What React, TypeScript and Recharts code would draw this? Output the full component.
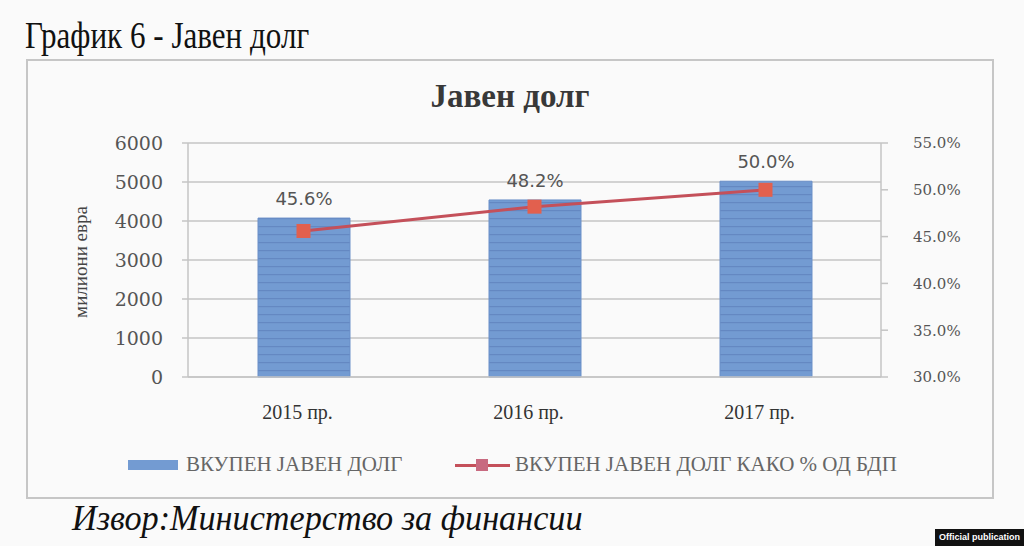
import React from "react";
import {
  ComposedChart,
  Bar,
  Line,
  XAxis,
  YAxis,
  CartesianGrid,
  LabelList,
} from "recharts";

/* ── data ─────────────────────────────────────────────── */
const years = ["2015 пр.", "2016 пр.", "2017 пр."];
const debt = [4075, 4540, 5020]; // милиони евра
const debtPct = [45.6, 48.2, 50.0]; // % од БДП
const leftTicks = [0, 1000, 2000, 3000, 4000, 5000, 6000];
const rightTicks = [30, 35, 40, 45, 50, 55];

const seriesBar = "ВКУПЕН ЈАВЕН ДОЛГ";
const seriesLine = "ВКУПЕН ЈАВЕН ДОЛГ КАКО % ОД БДП";

const rows = years.map((y, i) => ({ year: y, debt: debt[i], pct: debtPct[i] }));

const BAR = "#739bd2";
const LINE = "#c4505a";
const MARK = "#e2604e";
const serif = "'DejaVu Serif', serif";
const lib = "'Liberation Serif', serif";

const SquareDot = (props: any) => {
  const { cx, cy } = props;
  if (cx == null || cy == null) return null;
  return <rect x={cx - 7} y={cy - 7} width={14} height={14} fill={MARK} />;
};

export default function App() {
  return (
    <div
      style={{
        position: "absolute",
        left: 0,
        top: 0,
        width: 1024,
        height: 546,
        background: "#fafafa",
        overflow: "hidden",
        fontFamily: lib,
      }}
    >
      <div
        style={{
          position: "absolute",
          left: 25,
          top: 14,
          fontSize: 37,
          color: "#111",
          whiteSpace: "nowrap",
          transform: "scaleX(0.84)",
          transformOrigin: "left top",
        }}
      >
        График 6 - Јавен долг
      </div>

      {/* chart frame */}
      <div
        style={{
          position: "absolute",
          left: 26,
          top: 59,
          width: 964,
          height: 436,
          border: "2px solid #c6c6c6",
        }}
      />

      <div
        style={{
          position: "absolute",
          left: 27,
          top: 78,
          width: 966,
          textAlign: "center",
          fontSize: 33,
          fontWeight: "bold",
          color: "#383838",
        }}
      >
        Јавен долг
      </div>

      <div
        style={{
          position: "absolute",
          left: 81,
          top: 262,
          transform: "translate(-50%, -50%) rotate(-90deg)",
          fontSize: 19,
          color: "#444",
          whiteSpace: "nowrap",
        }}
      >
        милиони евра
      </div>

      <div style={{ position: "absolute", left: 27, top: 60 }}>
        <ComposedChart
          width={966}
          height={437}
          data={rows}
          margin={{ top: 83, right: 32, bottom: 80, left: 91 }}
        >
          <defs>
            <pattern id="barStripes" width="8" height="8" patternUnits="userSpaceOnUse">
              <rect width="8" height="8" fill={BAR} />
              <rect y="6" width="8" height="1.2" fill="#6488c2" />
            </pattern>
          </defs>
          <CartesianGrid yAxisId="left" vertical={false} stroke="#c4c4c4" strokeWidth={1.5} />
          <XAxis
            dataKey="year"
            height={40}
            tickLine={false}
            axisLine={{ stroke: "#c4c4c4", strokeWidth: 1.5 }}
            tickMargin={22}
            tick={{ fill: "#333", fontSize: 20, fontFamily: lib, dx: -6 }}
          />
          <YAxis
            yAxisId="left"
            width={70}
            domain={[0, 6000]}
            ticks={leftTicks}
            tickSize={6}
            tickMargin={19}
            axisLine={{ stroke: "#c4c4c4", strokeWidth: 1.5 }}
            tickLine={{ stroke: "#c4c4c4", strokeWidth: 1.5 }}
            tick={{ fill: "#555", fontSize: 19, fontFamily: serif }}
          />
          <YAxis
            yAxisId="right"
            orientation="right"
            width={80}
            domain={[30, 55]}
            ticks={rightTicks}
            tickSize={7}
            tickMargin={15}
            tickFormatter={(v: number) => `${v.toFixed(1)}%`}
            axisLine={{ stroke: "#c4c4c4", strokeWidth: 1.5 }}
            tickLine={{ stroke: "#c4c4c4", strokeWidth: 1.5 }}
            tick={{ fill: "#555", fontSize: 15, fontFamily: serif, textAnchor: "start", dx: 10 }}
          />
          <Bar
            yAxisId="left"
            dataKey="debt"
            barSize={92}
            fill="url(#barStripes)"
            stroke="#6a8fc8"
            isAnimationActive={false}
          >
            <LabelList
              dataKey="pct"
              position="top"
              offset={13}
              formatter={(v: any) => `${Number(v).toFixed(1)}%`}
              style={{ fill: "#555", fontSize: 18, fontFamily: "'DejaVu Sans', sans-serif" }}
            />
          </Bar>
          <Line
            yAxisId="right"
            dataKey="pct"
            stroke={LINE}
            strokeWidth={3}
            dot={<SquareDot />}
            activeDot={false}
            isAnimationActive={false}
          />
        </ComposedChart>
      </div>

      {/* legend */}
      <div
        style={{
          position: "absolute",
          top: 452,
          left: 128,
          display: "flex",
          alignItems: "center",
          fontSize: 21,
          color: "#666",
          whiteSpace: "nowrap",
        }}
      >
        <span style={{ display: "inline-block", width: 50, height: 10, background: BAR, marginRight: 8 }} />
        <span>{seriesBar}</span>
      </div>
      <div
        style={{
          position: "absolute",
          top: 452,
          left: 455,
          display: "flex",
          alignItems: "center",
          fontSize: 21,
          color: "#666",
          whiteSpace: "nowrap",
        }}
      >
        <span style={{ position: "relative", display: "inline-block", width: 55, height: 14, marginRight: 5 }}>
          <span style={{ position: "absolute", left: 0, top: 6, width: 55, height: 3, background: LINE }} />
          <span style={{ position: "absolute", left: 21, top: 1, width: 12, height: 12, background: "#c86a80" }} />
        </span>
        <span>{seriesLine}</span>
      </div>

      <div
        style={{
          position: "absolute",
          left: 72,
          top: 497,
          fontSize: 36,
          fontStyle: "italic",
          color: "#111",
          whiteSpace: "nowrap",
          transform: "scaleX(0.95)",
          transformOrigin: "left top",
        }}
      >
        Извор:Министерство за финансии
      </div>

      <div
        style={{
          position: "absolute",
          left: 935,
          top: 529,
          width: 89,
          height: 17,
          background: "#111",
          color: "#fff",
          fontFamily: "'Liberation Sans', sans-serif",
          fontWeight: "bold",
          fontSize: 9,
          lineHeight: "17px",
          textAlign: "center",
          whiteSpace: "nowrap",
        }}
      >
        Official publication
      </div>
    </div>
  );
}
